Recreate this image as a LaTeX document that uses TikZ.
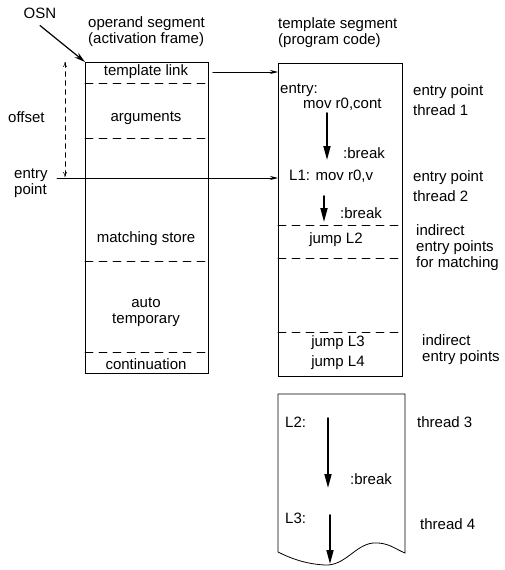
\documentclass[tikz,border=0pt]{standalone}
\usepackage{fontspec}
\setmainfont{Liberation Sans}
\usetikzlibrary{arrows.meta,calc}

\begin{document}
\begin{tikzpicture}[x=1pt,y=-1pt,line cap=round,
	txt/.style={inner sep=0pt, font=\fontsize{15}{16}\selectfont},
	segbox/.style={draw, line width=0.8pt, inner sep=0pt, anchor=north west},
	part/.style={dashed, dash pattern=on 8pt off 6pt, line width=0.7pt},
	thread/.style={line width=1.7pt, -{Triangle[length=14pt,width=7pt]}},
	link/.style={line width=0.8pt, -{Stealth[length=8pt,width=4pt]}}]
	
	\useasboundingbox (0,0) rectangle (504,570);
	
	% Boxes
	\node[segbox, minimum width=123pt, minimum height=311pt] (opseg) at (85,62) {};
	\node[segbox, minimum width=124pt, minimum height=313pt] (tmplseg) at (278,63) {};
	\draw[line width=0.8pt] (278,552) -- (278,394) -- (405,394) -- (405,553)
		.. controls (395,549) and (388,542) .. (373,543)
		.. controls (355,545) and (345,566) .. (325,565)
		.. controls (305,564) and (290,558) .. (278,552);
	
	% Headings
	\node[txt] (osn) at (40,13) {OSN};
	\node[txt, anchor=west, align=left] (ophead) at (88,32) {operand segment\\(activation frame)};
	\node[txt, anchor=west, align=left] (tmplhead) at (278,33) {template segment\\(program code)};
	
	% Operand segment
	\draw[part] (85,83) -- (208,83);
	\draw[part] (85,138) -- (208,138);
	\draw[part] (85,261) -- (208,261);
	\draw[part] (85,352) -- (208,352);
	\node[txt] (tlink) at (146,72) {template link};
	\node[txt] (args) at (146,118) {arguments};
	\node[txt] (mstore) at (146,239) {matching store};
	\node[txt, align=center] (autotmp) at (146,312) {auto\\temporary};
	\node[txt] (cont) at (146,364) {continuation};
	
	% Offset and entry point
	\node[txt, anchor=west] (offset) at (8,117) {offset};
	\node[txt, anchor=west, align=left] (entry) at (14,183) {entry\\point};
	\coordinate (offtop) at (65,62);
	\coordinate (offbot) at (65,177);
	\draw[dashed, dash pattern=on 5pt off 4pt, line width=0.5pt, {To[length=5pt,width=4pt]}-{To[length=5pt,width=4pt]}] (offtop) -- (offbot);
	\coordinate (entrystart) at (57,178);
	
	% Template segment
	\draw[part] (278,225) -- (402,225);
	\draw[part] (278,258) -- (402,258);
	\draw[part] (278,332) -- (402,332);
	\node[txt, anchor=west] (ent) at (280,90) {entry:};
	\node[txt, anchor=west] (mov1) at (303,104) {mov r0,cont};
	\node[txt, anchor=west] (brk1) at (343,153) {:break};
	\node[txt, anchor=west] (mov2) at (289,176) {L1: mov r0,v};
	\node[txt, anchor=west] (brk2) at (340,213) {:break};
	\node[txt] (jmp2) at (336,240) {jump L2};
	\node[txt] (jmp3) at (338,343) {jump L3};
	\node[txt] (jmp4) at (338,363) {jump L4};
	
	% Lower segment
	\node[txt, anchor=west] (lab2) at (285,422) {L2:};
	\node[txt, anchor=west] (brk3) at (350,479) {:break};
	\node[txt, anchor=west] (lab3) at (285,518) {L3:};
	
	% Right labels
	\node[txt, anchor=west, align=left] (ep1) at (413,100) {entry point\\[4pt]thread 1};
	\node[txt, anchor=west, align=left] (ep2) at (413,186) {entry point\\[4pt]thread 2};
	\node[txt, anchor=west, align=left] (ind1) at (416,248) {indirect\\entry points\\for matching};
	\node[txt, anchor=west, align=left] (ind2) at (422,350) {indirect\\entry points};
	\node[txt, anchor=west] (th3) at (417,422) {thread 3};
	\node[txt, anchor=west] (th4) at (420,524) {thread 4};
	
	% Links
	\draw[line width=1.2pt, -{Stealth[length=11pt,width=6pt]}] (osn.south) ++(0,7) -- (opseg.north west);
	\draw[link] ($(tlink -| opseg.east)+(4,0)$) -- (tlink -| tmplseg.west);
	\draw[link] (entrystart) -- (entrystart -| tmplseg.west);
	
	% Threads
	\coordinate (t1a) at (327,113);
	\coordinate (t1b) at (327,160);
	\coordinate (t2a) at (324,196);
	\coordinate (t2b) at (324,222);
	\coordinate (t3a) at (328,418);
	\coordinate (t3b) at (328,488);
	\coordinate (t4a) at (330,515);
	\coordinate (t4b) at (330,564);
	\draw[thread] (t1a) -- (t1b);
	\draw[thread] (t2a) -- (t2b);
	\draw[thread] (t3a) -- (t3b);
	\draw[thread] (t4a) -- (t4b);
\end{tikzpicture}
\end{document}
